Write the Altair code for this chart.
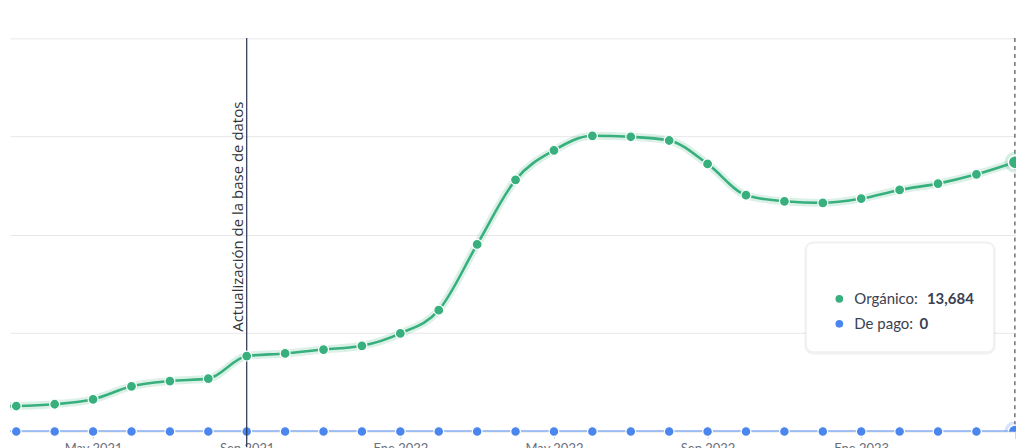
import altair as alt
import pandas as pd

# ---------------- data ----------------
months = ["feb 2021", "mar 2021", "abr 2021", "may 2021", "jun 2021", "jul 2021",
          "ago 2021", "sep 2021", "oct 2021", "nov 2021", "dic 2021", "ene 2022",
          "feb 2022", "mar 2022", "abr 2022", "may 2022", "jun 2022", "jul 2022",
          "ago 2022", "sep 2022", "oct 2022", "nov 2022", "dic 2022", "ene 2023",
          "feb 2023", "mar 2023", "abr 2023", "may 2023"]
organic = [1280, 1300, 1390, 1640, 2300, 2570, 2690, 3840, 3970, 4170, 4360, 4990,
           6170, 9510, 12790, 14290, 15030, 14980, 14790, 13600, 12010, 11700,
           11620, 11840, 12280, 12600, 13070, 13684]
paid = [0, 0, 0, 0, 0, 0, 0, 0, 0, 0, 0, 0, 0, 0, 0, 0, 0, 0, 0, 0, 0, 0, 0, 0,
        0, 0, 0, 0]
tick_idx = [2, 6, 10, 14, 18, 22, 26]
tick_labels = ["May 2021", "Sep 2021", "Ene 2022", "May 2022", "Sep 2022",
               "Ene 2023", ""]
y_ticks = [0, 5000, 10000, 15000, 20000]
update_idx = 6
update_label = "Actualización de la base de datos"
hover_idx = 26
tip_org_label = "Orgánico: "
tip_org_value = "13,684"
tip_paid_label = "De pago: "
tip_paid_value = "0"

# ---------------- layout constants ----------------
W, H = 1008, 424
X_DOMAIN = [-0.1635, 26.03]
Y_DOMAIN = [0, 21500]
GREEN = "#38b07d"
BLUE = "#4a86ee"
FONT = "Lato"

idx = [k - 1 for k in range(len(months))]
df = pd.DataFrame({"i": idx, "month": months, "organic": organic, "paid": paid})

xs = alt.Scale(domain=X_DOMAIN, nice=False, zero=False)
ys = alt.Scale(domain=Y_DOMAIN, nice=False)

expr = "''"
for v, lab in reversed(list(zip(tick_idx, tick_labels))):
    expr = f"datum.value == {v} ? '{lab}' : ({expr})"

x_axis = alt.Axis(values=tick_idx, labelExpr=expr, grid=False, domain=False,
                  tickColor="#d3d6dd", tickSize=7, tickWidth=1,
                  labelColor="#6b7080", labelFontSize=13, labelFont=FONT,
                  labelPadding=4, title=None)
y_axis = alt.Axis(values=y_ticks, labels=False, ticks=False, domain=False,
                  gridColor="#e7e7e7", gridWidth=1, title=None)

X = alt.X("i:Q", scale=xs, axis=x_axis)
Yo = alt.Y("organic:Q", scale=ys, axis=y_axis)
Yp = alt.Y("paid:Q", scale=ys, axis=y_axis)

base = alt.Chart(df).encode(x=X)

paid_line = base.mark_line(color=BLUE, strokeWidth=2, clip=True).encode(y=Yp)
paid_pts = base.transform_filter("datum.i >= 0 && datum.i < 26").mark_circle(
    color=BLUE, size=95, opacity=1, stroke="white", strokeWidth=1.2).encode(y=Yp)

glow = base.mark_line(interpolate="monotone", color=GREEN, strokeWidth=8,
                      opacity=0.18, clip=True).encode(y=Yo)
org_line = base.mark_line(interpolate="monotone", color=GREEN, strokeWidth=2.6,
                          clip=True).encode(y=Yo)
org_pts = base.transform_filter("datum.i >= 0 && datum.i < 26").mark_circle(
    color=GREEN, size=100, opacity=1, stroke="white", strokeWidth=1.2).encode(y=Yo)

# vertical rules
rules_df = pd.DataFrame({"i": [update_idx], "top": [20000], "bot": [-800]})
update_rule = alt.Chart(rules_df).mark_rule(color="#27314d", strokeWidth=1.2).encode(
    x=alt.X("i:Q", scale=xs), y=alt.Y("top:Q", scale=ys), y2="bot:Q")
update_text = alt.Chart(pd.DataFrame({"i": [update_idx - 0.09], "v": [5071],
                                      "t": [update_label]})).mark_text(
    angle=270, align="left", baseline="alphabetic", font="Open Sans",
    fontSize=15, color="#333333").encode(
    x=alt.X("i:Q", scale=xs), y=alt.Y("v:Q", scale=ys), text="t:N")

hover_df = pd.DataFrame({"i": [hover_idx], "top": [20000], "bot": [-800]})
hover_rule = alt.Chart(hover_df).mark_rule(color="#707070", strokeWidth=1.5,
                                           strokeDash=[4, 4], clip=True).encode(
    x=alt.X("i:Q", scale=xs), y=alt.Y("top:Q", scale=ys), y2="bot:Q")

last = df[df["i"] == hover_idx]
halo_g = alt.Chart(last).mark_circle(color=GREEN, size=440, opacity=0.22,
                                     clip=True).encode(x=alt.X("i:Q", scale=xs), y=Yo)
big_g = alt.Chart(last).mark_circle(color=GREEN, size=170, opacity=1, stroke="white",
                                    strokeWidth=1.5, clip=True).encode(
    x=alt.X("i:Q", scale=xs), y=Yo)
halo_b = alt.Chart(last).mark_circle(color=BLUE, size=440, opacity=0.22,
                                     clip=True).encode(x=alt.X("i:Q", scale=xs), y=Yp)
big_b = alt.Chart(last).mark_circle(color=BLUE, size=170, opacity=1, stroke="white",
                                    strokeWidth=1.5, clip=True).encode(
    x=alt.X("i:Q", scale=xs), y=Yp)

# tooltip box (data coordinates)
box = pd.DataFrame({"x0": [20.57], "x1": [25.45], "y0": [4057], "y1": [9584]})
shadow = pd.DataFrame({"x0": [20.52], "x1": [25.50], "y0": [3900], "y1": [9660]})
tip_shadow = alt.Chart(shadow).mark_rect(cornerRadius=9, color="#000000",
                                         opacity=0.05).encode(
    x=alt.X("x0:Q", scale=xs), x2="x1:Q", y=alt.Y("y0:Q", scale=ys), y2="y1:Q")
tip_box = alt.Chart(box).mark_rect(cornerRadius=7, fill="white", stroke="#ececec",
                                   strokeWidth=0.8).encode(
    x=alt.X("x0:Q", scale=xs), x2="x1:Q", y=alt.Y("y0:Q", scale=ys), y2="y1:Q")
dots = pd.DataFrame({"i": [21.43, 21.43], "v": [6745, 5477], "c": [GREEN, BLUE]})
tip_dots = alt.Chart(dots).mark_circle(size=60, opacity=1).encode(
    x=alt.X("i:Q", scale=xs), y=alt.Y("v:Q", scale=ys),
    color=alt.Color("c:N", scale=None))
labels = pd.DataFrame({"i": [21.82, 21.82], "v": [6745, 5477],
                       "t": [tip_org_label, tip_paid_label]})
tip_labels = alt.Chart(labels).mark_text(align="left", baseline="middle", font=FONT,
                                         fontSize=15, color="#3a4152").encode(
    x=alt.X("i:Q", scale=xs), y=alt.Y("v:Q", scale=ys), text="t:N")
values = pd.DataFrame({"i": [23.71, 23.52], "v": [6745, 5477],
                       "t": [tip_org_value, tip_paid_value]})
tip_values = alt.Chart(values).mark_text(align="left", baseline="middle", font=FONT,
                                         fontSize=15, fontWeight="bold",
                                         color="#3a4152").encode(
    x=alt.X("i:Q", scale=xs), y=alt.Y("v:Q", scale=ys), text="t:N")

chart = alt.layer(
    glow, paid_line, paid_pts, update_rule, update_text, org_line, org_pts,
    hover_rule, halo_g, big_g, halo_b, big_b,
    tip_shadow, tip_box, tip_dots, tip_labels, tip_values,
).properties(width=W, height=H, padding=0, background="white").configure_view(
    stroke=None)

chart.save("out.html", embed_options={"renderer": "svg", "actions": False})
